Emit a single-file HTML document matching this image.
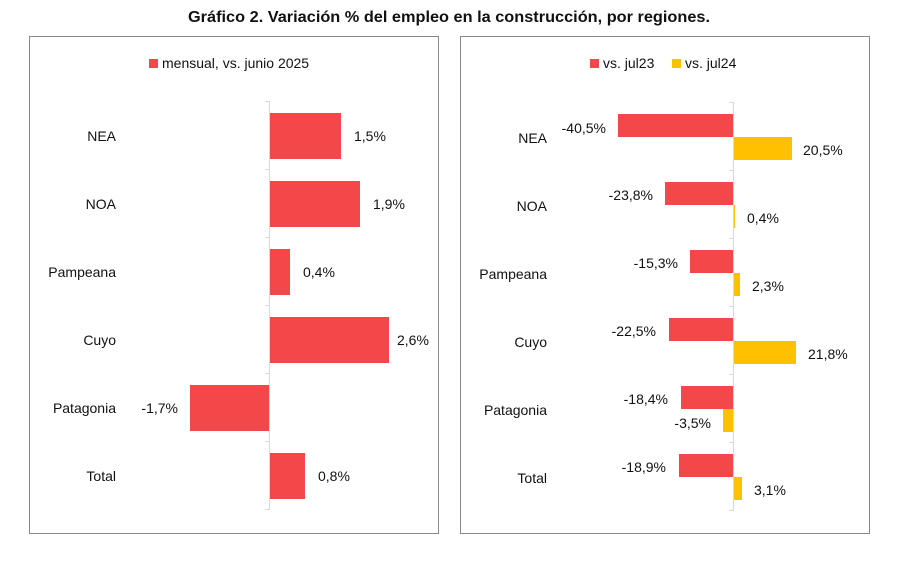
<!DOCTYPE html>
<html><head><meta charset="utf-8"><style>
body{margin:0;background:#fff}
svg text{font-family:"Liberation Sans",Arial,sans-serif;font-size:14px;fill:#111}
</style></head><body>
<svg width="899" height="558" xmlns="http://www.w3.org/2000/svg">
<rect width="899" height="558" fill="#fff"/>
<text x="449" y="22" text-anchor="middle" font-weight="bold" style="font-size:16px" textLength="522" lengthAdjust="spacingAndGlyphs">Gráfico 2. Variación % del empleo en la construcción, por regiones.</text>
<rect x="29.5" y="36.5" width="409" height="497" fill="none" stroke="#888" stroke-width="1"/>
<rect x="460.5" y="36.5" width="409" height="497" fill="none" stroke="#888" stroke-width="1"/>
<rect x="149" y="59" width="9" height="9" fill="#f4474a"/>
<text x="162" y="68">mensual, vs. junio 2025</text>
<line x1="269.5" y1="101" x2="269.5" y2="509" stroke="#d9d9d9"/>
<g stroke="#d9d9d9"><line x1="265" y1="101.5" x2="270" y2="101.5"/><line x1="265" y1="169.5" x2="270" y2="169.5"/><line x1="265" y1="237.5" x2="270" y2="237.5"/><line x1="265" y1="305.5" x2="270" y2="305.5"/><line x1="265" y1="373.5" x2="270" y2="373.5"/><line x1="265" y1="441.5" x2="270" y2="441.5"/><line x1="265" y1="509.5" x2="270" y2="509.5"/></g>
<g fill="#f4474a">
<rect x="270" y="113" width="71" height="46"/>
<rect x="270" y="181" width="90" height="46"/>
<rect x="270" y="249" width="20" height="46"/>
<rect x="270" y="317" width="119" height="46"/>
<rect x="190" y="385" width="79" height="46"/>
<rect x="270" y="453" width="35" height="46"/>
</g>
<g text-anchor="end">
<text x="116" y="141">NEA</text><text x="116" y="209">NOA</text><text x="116" y="277">Pampeana</text>
<text x="116" y="345">Cuyo</text><text x="116" y="413">Patagonia</text><text x="116" y="481">Total</text>
<text x="178" y="413">-1,7%</text>
</g>
<text x="354" y="141">1,5%</text><text x="373" y="209">1,9%</text><text x="303" y="277">0,4%</text>
<text x="397" y="345">2,6%</text><text x="318" y="481">0,8%</text>
<rect x="590" y="59" width="9" height="9" fill="#f4474a"/>
<text x="603" y="68">vs. jul23</text>
<rect x="672" y="59" width="9" height="9" fill="#ffc000"/>
<text x="685" y="68">vs. jul24</text>
<line x1="733.5" y1="102" x2="733.5" y2="510" stroke="#d9d9d9"/>
<g stroke="#d9d9d9"><line x1="729" y1="102.5" x2="734" y2="102.5"/><line x1="729" y1="170.5" x2="734" y2="170.5"/><line x1="729" y1="238.5" x2="734" y2="238.5"/><line x1="729" y1="306.5" x2="734" y2="306.5"/><line x1="729" y1="374.5" x2="734" y2="374.5"/><line x1="729" y1="442.5" x2="734" y2="442.5"/><line x1="729" y1="510.5" x2="734" y2="510.5"/></g>
<g fill="#f4474a">
<rect x="618" y="114" width="115" height="23"/>
<rect x="665" y="182" width="68" height="23"/>
<rect x="690" y="250" width="43" height="23"/>
<rect x="669" y="318" width="64" height="23"/>
<rect x="681" y="386" width="52" height="23"/>
<rect x="679" y="454" width="54" height="23"/>
</g>
<g fill="#ffc000">
<rect x="734" y="137" width="58" height="23"/>
<rect x="734" y="205" width="1" height="23"/>
<rect x="734" y="273" width="6" height="23"/>
<rect x="734" y="341" width="62" height="23"/>
<rect x="723" y="409" width="10" height="23"/>
<rect x="734" y="477" width="8" height="23"/>
</g>
<g text-anchor="end">
<text x="547" y="143">NEA</text><text x="547" y="211">NOA</text><text x="547" y="279">Pampeana</text>
<text x="547" y="347">Cuyo</text><text x="547" y="415">Patagonia</text><text x="547" y="483">Total</text>
<text x="606" y="133">-40,5%</text><text x="653" y="200">-23,8%</text><text x="678" y="268">-15,3%</text>
<text x="656" y="336">-22,5%</text><text x="668" y="404">-18,4%</text><text x="711" y="428">-3,5%</text>
<text x="666" y="472">-18,9%</text>
</g>
<text x="803" y="155">20,5%</text><text x="747" y="223">0,4%</text><text x="752" y="291">2,3%</text>
<text x="808" y="359">21,8%</text><text x="754" y="495">3,1%</text>
</svg>
</body></html>
